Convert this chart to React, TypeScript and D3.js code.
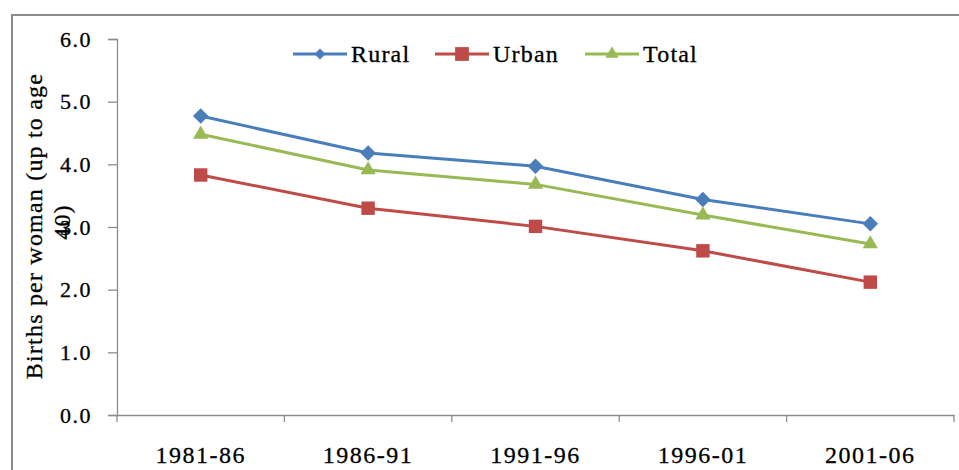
import * as d3 from 'd3'
import React, { useEffect, useRef } from 'react'

const periods = ['1981-86', '1986-91', '1991-96', '1996-01', '2001-06']
const rural = [4.77, 4.18, 3.97, 3.44, 3.05]
const urban = [3.83, 3.3, 3.01, 2.62, 2.12]
const total = [4.48, 3.91, 3.68, 3.19, 2.73]
const yTicks = [0, 1, 2, 3, 4, 5, 6]

// marker shapes: diamond is a square turned 45deg, like Excel's
const series = [
  { name: 'Rural', values: rural, color: '#4a7ebb', symbol: d3.symbolSquare, rotate: 45, size: 120, legendSize: 60 },
  { name: 'Urban', values: urban, color: '#be4b48', symbol: d3.symbolSquare, rotate: 0, size: 180, legendSize: 190 },
  { name: 'Total', values: total, color: '#98b954', symbol: d3.symbolTriangle, rotate: 0, size: 100, legendSize: 75 }
]

export default function App() {
  const svgRef = useRef<SVGSVGElement>(null)

  useEffect(() => {
    if (!svgRef.current) return
    const width = 959
    const height = 470
    const svg = d3.select(svgRef.current)
    svg.selectAll('*').remove()
    svg.attr('width', width).attr('height', height)

    const font = '"Liberation Serif", "Times New Roman", serif'

    // outer frame
    svg.append('path')
      .attr('d', `M12,${height} L12,15 L${width},15`)
      .attr('fill', 'none')
      .attr('stroke', '#8c8c8c')
      .attr('stroke-width', 2)

    const left = 117
    const right = 954
    const top = 39
    const bottom = 415

    const x = d3.scaleBand().domain(periods).range([left, right])
    const y = d3.scaleLinear().domain([0, 6]).range([bottom, top])

    // y axis
    const yAxis = svg.append('g')
      .attr('transform', `translate(${left},0)`)
      .call(d3.axisLeft(y).tickValues(yTicks).tickFormat(d3.format('.1f')).tickSize(9).tickPadding(16))
    yAxis.select('.domain').attr('stroke', '#8c8c8c').attr('stroke-width', 1.3)
    yAxis.selectAll('.tick line').attr('stroke', '#8c8c8c').attr('stroke-width', 1.3)
    yAxis.selectAll('.tick text')
      .style('font-family', font)
      .style('font-size', '22px')
      .style('letter-spacing', '1.5px')
      .attr('fill', '#000')
      .attr('stroke', '#000')
      .attr('stroke-width', 0.3)

    // x axis
    const xAxis = svg.append('g')
      .attr('transform', `translate(0,${bottom})`)
      .call(d3.axisBottom(x).tickSize(0))
    xAxis.select('.domain').attr('stroke', '#8c8c8c').attr('stroke-width', 1.3)
    xAxis.selectAll('.tick text')
      .attr('y', 48)
      .attr('dy', 0)
      .style('font-family', font)
      .style('font-size', '24px')
      .style('letter-spacing', '1.5px')
      .attr('fill', '#000')
      .attr('stroke', '#000')
      .attr('stroke-width', 0.3)
    const bounds = periods.map(p => x(p) as number).concat([right])
    xAxis.selectAll('.sep')
      .data(bounds)
      .enter()
      .append('line')
      .attr('x1', d => d)
      .attr('x2', d => d)
      .attr('y1', 0)
      .attr('y2', 7)
      .attr('stroke', '#8c8c8c')
      .attr('stroke-width', 1.3)

    // y axis title (two lines, rotated)
    const title = svg.append('text')
      .attr('transform', `translate(42,226) rotate(-90)`)
      .attr('text-anchor', 'middle')
      .style('font-family', font)
      .style('font-size', '24px')
      .style('letter-spacing', '1.2px')
      .attr('fill', '#000')
      .attr('stroke', '#000')
      .attr('stroke-width', 0.3)
    title.append('tspan').attr('x', 0).attr('y', 0).text('Births per woman (up to  age')
    title.append('tspan').attr('x', 4).attr('y', 28).text('40)')

    const cx = (i: number) => (x(periods[i]) as number) + x.bandwidth() / 2

    series.forEach(s => {
      const line = d3.line<number>()
        .x((_, i) => cx(i))
        .y(d => y(d))
      svg.append('path')
        .datum(s.values)
        .attr('fill', 'none')
        .attr('stroke', s.color)
        .attr('stroke-width', 3)
        .attr('d', line)
      svg.selectAll(null)
        .data(s.values)
        .enter()
        .append('path')
        .attr('transform', (d, i) => `translate(${cx(i)},${y(d)}) rotate(${s.rotate})`)
        .attr('d', d3.symbol().type(s.symbol).size(s.size)())
        .attr('fill', s.color)
    })

    // legend
    const legendX = [293, 435, 585]
    series.forEach((s, i) => {
      const g = svg.append('g').attr('transform', `translate(${legendX[i]},54)`)
      g.append('line')
        .attr('x1', 0)
        .attr('x2', 54)
        .attr('stroke', s.color)
        .attr('stroke-width', 3)
      g.append('path')
        .attr('transform', `translate(27,0) rotate(${s.rotate})`)
        .attr('d', d3.symbol().type(s.symbol).size(s.legendSize)())
        .attr('fill', s.color)
      g.append('text')
        .attr('x', 58)
        .attr('y', 8)
        .style('font-family', font)
        .style('font-size', '24px')
        .style('letter-spacing', '1.2px')
        .attr('fill', '#000')
        .attr('stroke', '#000')
        .attr('stroke-width', 0.3)
        .text(s.name)
    })
  }, [])

  return (
    <div style={{ position: 'absolute', left: 0, top: 0 }}>
      <svg ref={svgRef} role="img" aria-label="Births per woman by period">
        <title>Births per woman by period</title>
      </svg>
    </div>
  )
}
